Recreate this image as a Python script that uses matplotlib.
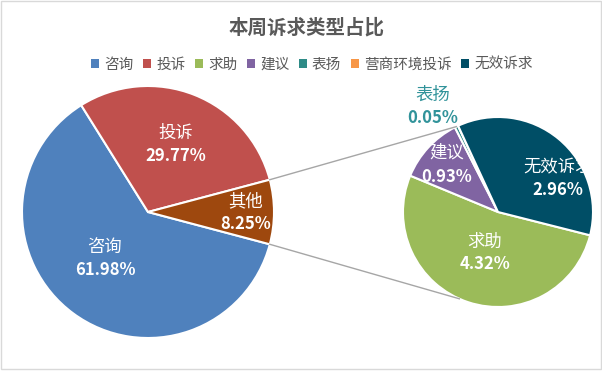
import matplotlib
matplotlib.use("Agg")
import matplotlib.pyplot as plt
from matplotlib.patches import Patch, Rectangle
from matplotlib.transforms import Bbox, TransformedBbox
import numpy as np

plt.rcParams['font.family'] = ['Noto Sans CJK SC', 'DejaVu Sans']

# 主饼图
main_labels = ['咨询', '投诉', '其他']
main_values = [61.98, 29.77, 8.25]
main_colors = ['#4F81BD', '#C0504D', '#9E480E']

# 子饼图（其他的拆分）
sub_labels = ['求助', '建议', '表扬', '营商环境投诉', '无效诉求']
sub_values = [4.32, 0.93, 0.05, 0.0, 2.96]
sub_colors = ['#9BBB59', '#8064A2', '#2E8B87', '#F79646', '#004E66']

legend_labels = ['咨询', '投诉', '求助', '建议', '表扬', '营商环境投诉', '无效诉求']
legend_colors = ['#4F81BD', '#C0504D', '#9BBB59', '#8064A2', '#2E8B87', '#F79646', '#004E66']

W, H = 602, 379
fig = plt.figure(figsize=(W / 100, H / 100), dpi=100)
ax = fig.add_axes([0, 0, 1, 1])

def py(y):
    return H - y

c1, r1 = (148, py(212)), 126
c2, r2 = (498, py(212)), 95

other_half = main_values[2] / sum(main_values) * 360 / 2
ax.pie(main_values, colors=main_colors, startangle=-other_half, counterclock=False,
       center=c1, radius=r1, wedgeprops=dict(edgecolor='white', linewidth=1.5))
ax.pie(sub_values, colors=sub_colors, startangle=-14.2, counterclock=False,
       center=c2, radius=r2, wedgeprops=dict(edgecolor='white', linewidth=1.5))

# 连接线
for a1, a2 in [(other_half, 116), (-other_half, -114)]:
    x1 = c1[0] + r1 * np.cos(np.radians(a1))
    y1 = c1[1] + r1 * np.sin(np.radians(a1))
    x2 = c2[0] + r2 * np.cos(np.radians(a2))
    y2 = c2[1] + r2 * np.sin(np.radians(a2))
    ax.plot([x1, x2], [y1, y2], color='#A6A6A6', lw=1)

ax.set_xlim(0, W)
ax.set_ylim(0, H)
ax.set_aspect('auto')
ax.axis('off')

# 数据标签
label_pos = {
    '咨询': (105, 247, 270, 'white'),
    '投诉': (176, 133, 156, 'white'),
    '其他': (246, 201, 224, 'white'),
    '求助': (485, 242, 264, 'white'),
    '建议': (447, 153, 177, 'white'),
    '表扬': (433, 95, 118, '#31939A'),
    '无效诉求': (558, 166, 190, 'white'),
}
all_vals = dict(zip(main_labels + sub_labels, main_values + sub_values))
clip = TransformedBbox(Bbox([[0, 0], [584, H]]), ax.transData)
for name, (x, yn, yp, col) in label_pos.items():
    t = ax.text(x, py(yn), name, color=col, fontsize=12.5, ha='center', va='center')
    ax.text(x, py(yp), f"{all_vals[name]:.2f}%", color=col, fontsize=12,
            fontweight='bold', ha='center', va='center')
    if name == '无效诉求':
        t.set_clip_box(clip)
        t.set_clip_on(True)

fig.text(307 / W, 1 - 28 / H, '本周诉求类型占比', fontsize=14, fontweight='bold',
         color='#595959', ha='center', va='center')

handles = [Patch(facecolor=c, edgecolor='none') for c in legend_colors]
fig.legend(handles, legend_labels, loc='center', bbox_to_anchor=(312 / W, 1 - 65 / H),
           ncol=7, frameon=False, fontsize=10.5, labelcolor='#595959',
           handlelength=0.55, handleheight=0.55, handletextpad=0.35, columnspacing=0.65)

# 图表边框
fig.patches.append(Rectangle((0.5, 10.5), W - 1.5, H - 11, transform=None,
                             fill=False, edgecolor='#D9D9D9', lw=1))

fig.savefig('out.png', dpi=100, facecolor='white')
